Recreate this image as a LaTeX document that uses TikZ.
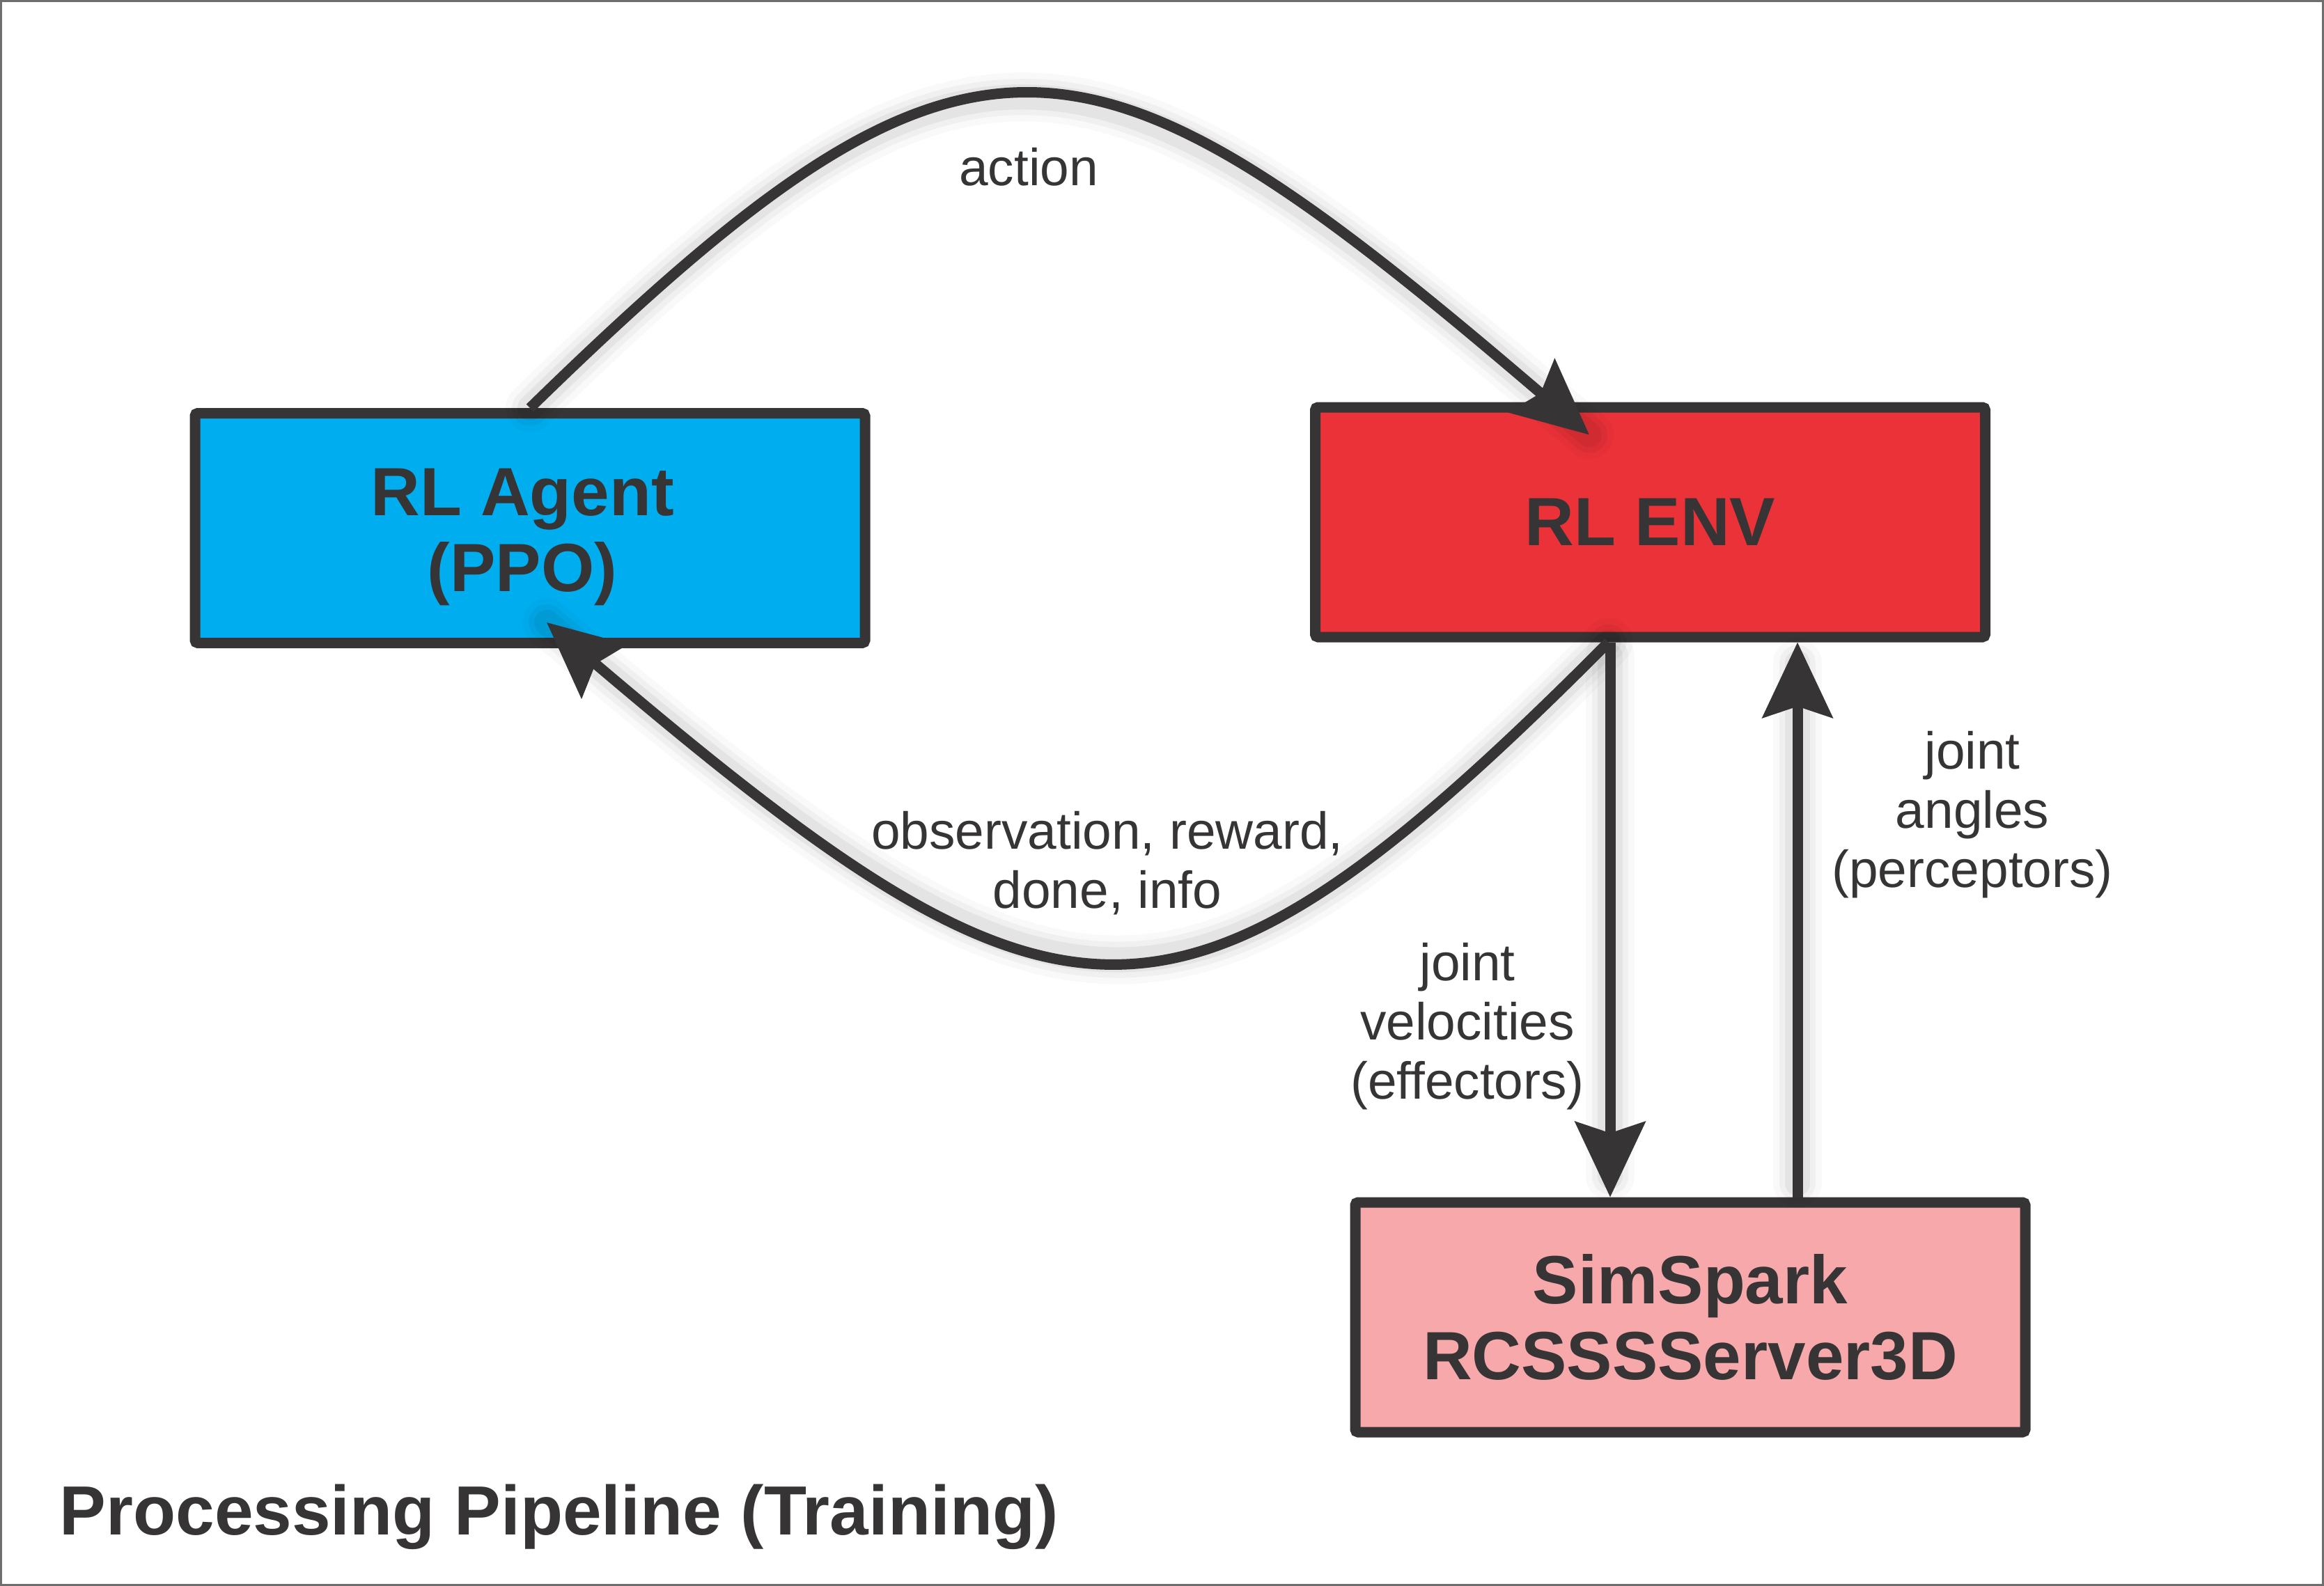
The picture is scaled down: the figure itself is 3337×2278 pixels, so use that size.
\documentclass[tikz,border=0pt]{standalone}
\usepackage{fontspec}
\setmainfont{Liberation Sans}
\usetikzlibrary{arrows.meta,calc}
\definecolor{ink}{RGB}{54,52,53}
\definecolor{agentblue}{RGB}{0,174,239}
\definecolor{envred}{RGB}{234,50,56}
\definecolor{simpink}{RGB}{247,168,171}
\definecolor{framegray}{RGB}{110,110,110}
\tikzset{
  box/.style={draw=ink, line width=3.75pt, minimum width=240.5pt, minimum height=82.5pt,
    inner sep=0pt, rounded corners=1pt, text=ink, align=center,
    font=\fontsize{24.5}{27.3}\selectfont\bfseries},
  boxtext/.style={text=ink, align=center, inner sep=0pt,
    font=\fontsize{24.5}{27.3}\selectfont\bfseries},
  arr/.style={draw=ink, line width=3.75pt, -{Stealth[length=27pt,width=25pt,inset=4pt]}},
  lbl/.style={text=ink, align=center, inner sep=0pt, font=\fontsize{18.7}{21.25}\selectfont},
  glow/.style={draw=black, opacity=#1, line cap=round}
}
\begin{document}
\begin{tikzpicture}[x=0.25pt,y=-0.25pt]
\useasboundingbox (0,0) rectangle (3337,2278);
\draw[framegray, line width=0.6pt] (1.5,1.5) rectangle (3335.5,2276.5);

% boxes
\node[box, fill=agentblue, label={[boxtext, xshift=-2.75pt, yshift=-3.2pt]center:{RL Agent\\(PPO)}}] (agent) at (761,758.5) {};
\node[box, fill=envred] (env) at (2369.5,750) {RL ENV};
\node[box, fill=simpink] (sim) at (2427,1892) {SimSpark\\RCSSSServer3D};

% connector end points
\coordinate (a0) at (agent.north);
\coordinate (a3) at ($(env.north)+(-87.5,47)$);
\coordinate (o0) at ($(env.south)+(-60,0)$);
\coordinate (o3) at ($(agent.south)+(24,-37)$);
\coordinate (dn) at (2312,0);
\coordinate (up) at (2581,0);

% soft shadows
\foreach \w/\o in {70/0.025,52/0.035,36/0.05}{
  \draw[glow=\o, line width=\w*0.25pt] (a0) .. controls (1397,-35) and (1557,4) .. (a3);
  \draw[glow=\o, line width=\w*0.25pt] (o0) .. controls (1686,1549) and (1523,1521) .. (o3);
  \draw[glow=\o, line width=\w*0.25pt] ($(env.south -| dn)+(0,20)$) -- ($(sim.north -| dn)+(0,-30)$);
  \draw[glow=\o, line width=\w*0.25pt] ($(sim.north -| up)+(0,-20)$) -- ($(env.south -| up)+(0,30)$);
}

% connectors
\draw[arr] (a0) .. controls (1397,-35) and (1557,4) .. (a3);
\draw[arr] (o0) .. controls (1686,1549) and (1523,1521) .. (o3);
\draw[arr] (env.south -| dn) -- (sim.north -| dn);
\draw[arr] (sim.north -| up) -- (env.south -| up);

% labels
\node[lbl] (lact) at (1477,240) {action};
\node[lbl] (lobs) at (1590,1240) {observation, reward,\\done, info};
\node[lbl] (lvel) at (2107,1474) {joint\\velocities\\(effectors)};
\node[lbl] (lang) at (2832,1170) {joint\\angles\\(perceptors)};
\node[text=ink, anchor=west, inner sep=0pt, font=\fontsize{25}{27}\selectfont\bfseries] (title) at (85,2179) {Processing Pipeline (Training)};
\end{tikzpicture}
\end{document}
